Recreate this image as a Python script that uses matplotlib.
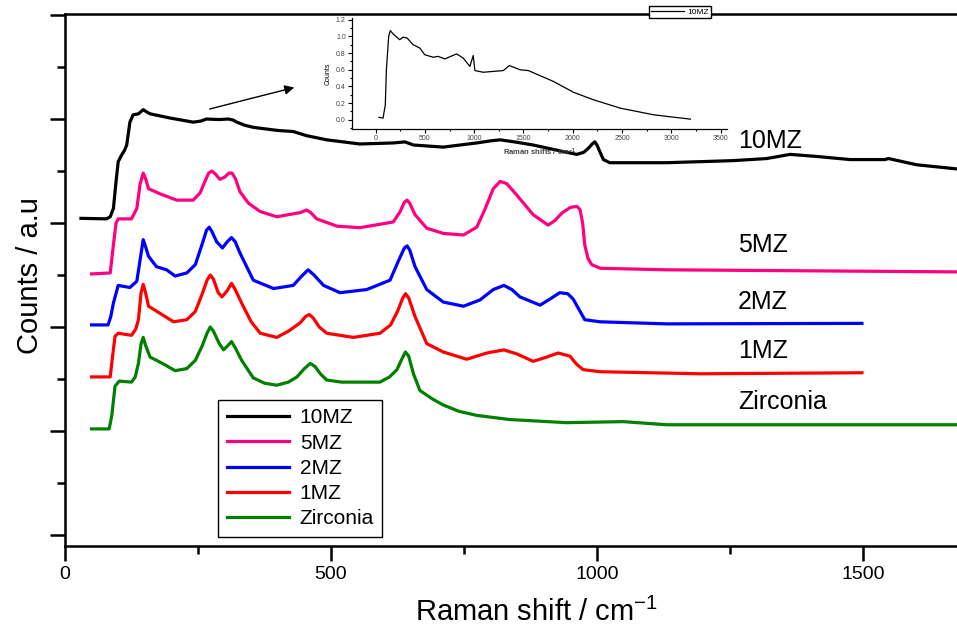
import numpy as np
import matplotlib.pyplot as plt
from matplotlib.ticker import MultipleLocator

plt.rcParams['font.family'] = ['Liberation Sans', 'DejaVu Sans']
plt.rcParams['mathtext.default'] = 'regular'

# spectra (x in cm-1, y in stacked a.u.)
x_10mz = [30, 78, 85, 91, 96, 100, 106, 112, 116, 122, 128, 138, 147, 153, 160, 197, 241, 255, 266, 290,
          307, 316, 323, 338, 354, 400, 429, 454, 492, 554, 617, 639, 655, 711, 774, 800, 818, 845, 880,
          943, 962, 975, 984, 991, 996, 1000, 1005, 1012, 1024, 1131, 1256, 1319, 1363, 1413, 1476, 1541,
          1548, 1601, 1677]
y_10mz = [3.045, 3.04, 3.06, 3.14, 3.40, 3.59, 3.65, 3.70, 3.75, 3.97, 4.04, 4.05, 4.09, 4.07, 4.05, 4.01,
          3.97, 3.98, 4.00, 3.995, 4.00, 3.99, 3.97, 3.94, 3.92, 3.89, 3.88, 3.84, 3.80, 3.76, 3.77, 3.78,
          3.75, 3.73, 3.77, 3.79, 3.80, 3.78, 3.75, 3.68, 3.66, 3.68, 3.72, 3.76, 3.78, 3.75, 3.69, 3.61,
          3.58, 3.58, 3.60, 3.62, 3.66, 3.64, 3.61, 3.61, 3.62, 3.56, 3.52]

x_5mz = [50, 85, 91, 96, 100, 125, 135, 141, 147, 152, 157, 179, 210, 241, 254, 263, 270, 276, 283, 291,
         300, 308, 314, 320, 329, 345, 367, 398, 442, 454, 462, 473, 511, 554, 617, 630, 638, 643, 648,
         658, 680, 711, 749, 774, 790, 805, 818, 830, 849, 880, 908, 920, 935, 950, 962, 968, 973, 977,
         983, 990, 1006, 1131, 1677]
y_5mz = [2.51, 2.52, 2.79, 3.0, 3.04, 3.04, 3.14, 3.37, 3.48, 3.42, 3.33, 3.28, 3.22, 3.22, 3.29, 3.40,
         3.48, 3.50, 3.47, 3.42, 3.44, 3.48, 3.48, 3.43, 3.30, 3.19, 3.11, 3.06, 3.10, 3.125, 3.10, 3.04,
         2.97, 2.955, 3.01, 3.11, 3.20, 3.22, 3.19, 3.08, 2.95, 2.90, 2.885, 2.96, 3.14, 3.33, 3.40, 3.38,
         3.27, 3.08, 2.98, 3.02, 3.10, 3.15, 3.16, 3.13, 3.0, 2.79, 2.66, 2.60, 2.565, 2.55, 2.53]

x_2mz = [50, 81, 86, 91, 100, 122, 135, 141, 147, 151, 157, 172, 191, 207, 229, 245, 258, 266, 271, 276,
         285, 296, 305, 313, 320, 329, 354, 392, 429, 445, 457, 468, 486, 517, 567, 611, 628, 638, 643,
         648, 658, 680, 711, 749, 780, 805, 825, 840, 855, 893, 915, 930, 945, 955, 977, 1006, 1131, 1498]
y_2mz = [2.02, 2.02, 2.10, 2.23, 2.40, 2.38, 2.44, 2.64, 2.84, 2.78, 2.68, 2.58, 2.55, 2.49, 2.52, 2.60,
         2.80, 2.93, 2.96, 2.92, 2.82, 2.76, 2.82, 2.86, 2.82, 2.71, 2.45, 2.37, 2.40, 2.49, 2.55, 2.50,
         2.40, 2.33, 2.36, 2.45, 2.65, 2.76, 2.78, 2.74, 2.58, 2.36, 2.24, 2.20, 2.26, 2.36, 2.40, 2.36,
         2.29, 2.21, 2.28, 2.33, 2.32, 2.27, 2.07, 2.05, 2.03, 2.035]

x_1mz = [50, 85, 89, 94, 100, 125, 133, 138, 143, 147, 151, 157, 179, 204, 229, 245, 258, 267, 273, 279,
         288, 295, 305, 313, 320, 332, 350, 367, 398, 420, 442, 452, 459, 466, 478, 492, 542, 592, 612,
         625, 635, 640, 646, 658, 680, 711, 755, 793, 825, 850, 880, 905, 927, 949, 962, 974, 1006, 1194,
         1498]
y_1mz = [1.52, 1.52, 1.70, 1.91, 1.94, 1.92, 1.98, 2.07, 2.33, 2.41, 2.34, 2.20, 2.13, 2.05, 2.07, 2.15,
         2.32, 2.45, 2.50, 2.46, 2.33, 2.29, 2.35, 2.42, 2.36, 2.23, 2.05, 1.94, 1.90, 1.96, 2.04, 2.10,
         2.12, 2.09, 2.00, 1.94, 1.90, 1.94, 2.02, 2.15, 2.28, 2.32, 2.28, 2.10, 1.84, 1.76, 1.69, 1.75,
         1.78, 1.74, 1.67, 1.71, 1.75, 1.72, 1.64, 1.59, 1.57, 1.55, 1.56]

x_zr = [50, 83, 88, 94, 102, 125, 132, 138, 143, 147, 151, 160, 172, 190, 207, 229, 245, 258, 267, 273,
        279, 290, 298, 306, 313, 320, 332, 354, 375, 398, 420, 436, 450, 461, 470, 480, 492, 520, 542, 592,
        610, 624, 633, 640, 646, 655, 667, 690, 711, 740, 774, 836, 943, 1049, 1131, 1677]
y_zr = [1.02, 1.02, 1.15, 1.43, 1.48, 1.47, 1.52, 1.65, 1.84, 1.90, 1.83, 1.71, 1.68, 1.63, 1.58, 1.60,
        1.68, 1.82, 1.94, 2.00, 1.96, 1.84, 1.78, 1.82, 1.86, 1.80, 1.68, 1.51, 1.46, 1.44, 1.47, 1.52,
        1.60, 1.65, 1.62, 1.55, 1.49, 1.47, 1.47, 1.47, 1.52, 1.59, 1.69, 1.76, 1.72, 1.55, 1.39, 1.31,
        1.25, 1.19, 1.15, 1.11, 1.08, 1.09, 1.06, 1.06]

# full-range 10MZ spectrum for the inset
x_inset = [34, 75, 98, 109, 132, 149, 176, 244, 278, 319, 380, 448, 498, 583, 634, 702, 821, 888, 956, 990,
           1007, 1092, 1295, 1356, 1465, 1550, 1804, 2007, 2211, 2482, 2821, 3194]
y_inset = [0.03, 0.02, 0.18, 0.60, 1.0, 1.07, 1.03, 0.96, 0.99, 0.98, 0.90, 0.86, 0.78, 0.75, 0.76, 0.73,
           0.79, 0.74, 0.64, 0.77, 0.59, 0.57, 0.59, 0.65, 0.60, 0.59, 0.46, 0.33, 0.24, 0.14, 0.06, 0.008]

labels = ['10MZ', '5MZ', '2MZ', '1MZ', 'Zirconia']
colors = ['black', '#FF0080', '#0000FF', '#FF0000', '#008000']
label_y = [3.79, 2.79, 2.24, 1.77, 1.28]

fig = plt.figure(figsize=(9.57, 6.3), dpi=100)
ax = fig.add_axes([65/957, 84/630, 892/957, 532/630])

series = [(x_10mz, y_10mz), (x_5mz, y_5mz), (x_2mz, y_2mz), (x_1mz, y_1mz), (x_zr, y_zr)]
for (xs, ys), lab, c in zip(series, labels, colors):
    ax.plot(xs, ys, color=c, lw=2.3, label=lab, solid_joinstyle='round')

for lab, ly in zip(labels, label_y):
    ax.text(1265, ly, lab, fontsize=18, ha='left', va='center')

ax.set_xlim(0, 1676.7)
ax.set_ylim(-0.106, 5.01)
ax.xaxis.set_major_locator(MultipleLocator(500))
ax.xaxis.set_minor_locator(MultipleLocator(250))
ax.yaxis.set_major_locator(MultipleLocator(1))
ax.yaxis.set_minor_locator(MultipleLocator(0.5))
ax.tick_params(which='major', direction='out', length=11, width=1.8, labelsize=14)
ax.tick_params(which='minor', direction='out', length=6, width=1.8)
ax.tick_params(axis='y', labelleft=False)
ax.spines['right'].set_visible(False)
for s in ['left', 'bottom', 'top']:
    ax.spines[s].set_linewidth(1.8)

fig.text(30/957, 1 - 276/630, 'Counts / a.u', rotation=90, fontsize=21, ha='center', va='center')
fig.text(536/957, 1 - 612/630, 'Raman shift / cm$^{-1}$', fontsize=21, ha='center', va='center')

ax.legend(loc='lower left', bbox_to_anchor=(0.172, 0.0175), fontsize=15, handlelength=3.0,
          labelspacing=0.3, fancybox=False, edgecolor='black', framealpha=1, borderaxespad=0,
          borderpad=0.4, handletextpad=0.5)

ax.annotate('', xy=(436, 4.31), xytext=(267, 4.09),
            arrowprops=dict(arrowstyle='-|>', color='black', lw=1, mutation_scale=14))

# inset
ins = fig.add_axes([352/957, 1 - 129/630, 375/957, 111/630])
ins.patch.set_alpha(0)
ins.plot(x_inset, y_inset, color='black', lw=0.9, label='10MZ')
ins.set_xlim(-240, 3565)
ins.set_ylim(-0.11, 1.22)
ins.xaxis.set_major_locator(MultipleLocator(500))
ins.xaxis.set_minor_locator(MultipleLocator(250))
ins.yaxis.set_major_locator(MultipleLocator(0.2))
ins.yaxis.set_minor_locator(MultipleLocator(0.1))
ins.spines['top'].set_visible(False)
ins.spines['right'].set_visible(False)
for s in ['left', 'bottom']:
    ins.spines[s].set_linewidth(0.9)
ins.tick_params(which='major', length=3, width=0.8, labelsize=5, labelcolor='#444444', pad=1.5)
ins.tick_params(which='minor', length=1.5, width=0.8)
ins.set_xlabel('Raman shifts / cm$^{-1}$', fontsize=5.5, color='#444444', labelpad=3, fontweight='bold')
ins.set_ylabel('Counts', fontsize=5, labelpad=3)
ins.legend(loc='center', bbox_to_anchor=(680/957, 1 - 12/630), bbox_transform=fig.transFigure,
           fontsize=6, handlelength=4, fancybox=False, edgecolor='black', framealpha=1,
           borderpad=0.2, handletextpad=0.4)

fig.savefig('out.png', dpi=100)
